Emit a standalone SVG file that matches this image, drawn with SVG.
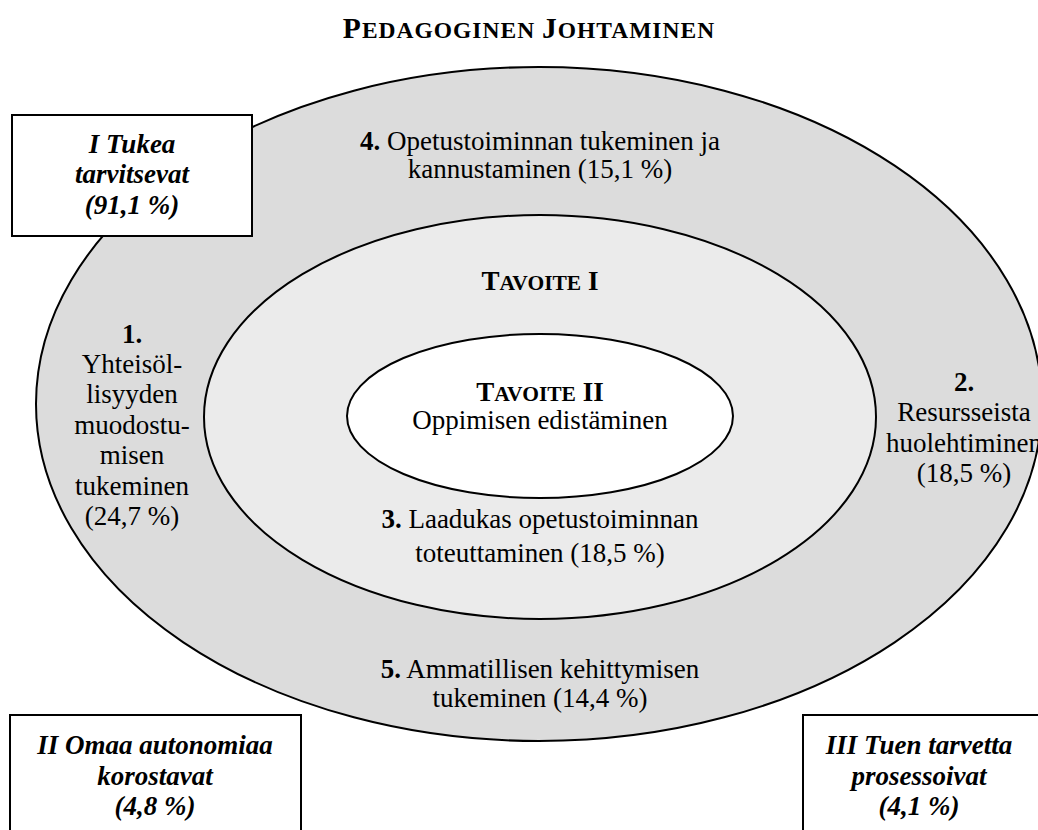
<svg xmlns="http://www.w3.org/2000/svg" width="1038" height="830" viewBox="0 0 1038 830">
<style>
text{font-family:"Liberation Serif","Times New Roman",serif;fill:#000;text-anchor:middle}
.t{font-size:27px}
.bi{font-size:27px;font-weight:bold;font-style:italic}
.b{font-weight:bold}
.sc{font-size:21.5px}
.box{fill:#fff;stroke:#000;stroke-width:2}
.ring{stroke:#000;stroke-width:2}
</style>
<rect x="0" y="0" width="1038" height="830" fill="#fff"/>
<g id="title">
<text x="529" y="38" class="b" font-size="29.5px" letter-spacing="1">P<tspan font-size="23.5px">EDAGOGINEN </tspan>J<tspan font-size="23.5px">OHTAMINEN</tspan></text>
</g>
<g id="outer">
<ellipse class="ring" cx="539" cy="404" rx="503" ry="337" fill="#dcdcdc"/>
</g>
<g id="inner">
<ellipse class="ring" cx="540" cy="417" rx="336" ry="202" fill="#ebebeb"/>
</g>
<g id="core">
<ellipse class="ring" cx="540" cy="416" rx="193" ry="82" fill="#fff"/>
</g>
<g id="box1">
<rect class="box" x="12" y="115" width="240" height="121"/>
<text class="bi" x="132" y="153">I Tukea</text>
<text class="bi" x="132" y="183">tarvitsevat</text>
<text class="bi" x="132" y="214">(91,1 %)</text>
</g>
<g id="box2">
<rect class="box" x="10" y="715" width="291" height="130"/>
<text class="bi" x="155" y="754">II Omaa autonomiaa</text>
<text class="bi" x="155" y="785">korostavat</text>
<text class="bi" x="155" y="815">(4,8 %)</text>
</g>
<g id="box3">
<rect class="box" x="803" y="715" width="260" height="130"/>
<text class="bi" x="919" y="754">III Tuen tarvetta</text>
<text class="bi" x="919" y="785">prosessoivat</text>
<text class="bi" x="919" y="815">(4,1 %)</text>
</g>
<g id="label4">
<text class="t" x="540" y="150"><tspan class="b">4.</tspan> Opetustoiminnan tukeminen ja</text>
<text class="t" x="540" y="178">kannustaminen (15,1 %)</text>
</g>
<g id="label1">
<text class="t b" x="132" y="343">1.</text>
<text class="t" x="132" y="373">Yhteisöl-</text>
<text class="t" x="132" y="403">lisyyden</text>
<text class="t" x="132" y="434">muodostu-</text>
<text class="t" x="132" y="464">misen</text>
<text class="t" x="132" y="495">tukeminen</text>
<text class="t" x="132" y="525">(24,7 %)</text>
</g>
<g id="label2">
<text class="t b" x="964" y="391">2.</text>
<text class="t" x="964" y="421">Resursseista</text>
<text class="t" x="964" y="452">huolehtiminen</text>
<text class="t" x="964" y="482">(18,5 %)</text>
</g>
<g id="tavoite1">
<text class="t b" x="540" y="290">T<tspan class="sc">AVOITE</tspan> I</text>
</g>
<g id="tavoite2">
<text class="t b" x="540" y="401">T<tspan class="sc">AVOITE</tspan> II</text>
<text class="t" x="540" y="429">Oppimisen edistäminen</text>
</g>
<g id="label3">
<text class="t" x="540" y="528"><tspan class="b">3.</tspan> Laadukas opetustoiminnan</text>
<text class="t" x="540" y="562">toteuttaminen (18,5 %)</text>
</g>
<g id="label5">
<text class="t" x="540" y="678"><tspan class="b">5.</tspan> Ammatillisen kehittymisen</text>
<text class="t" x="540" y="707">tukeminen (14,4 %)</text>
</g>
</svg>
